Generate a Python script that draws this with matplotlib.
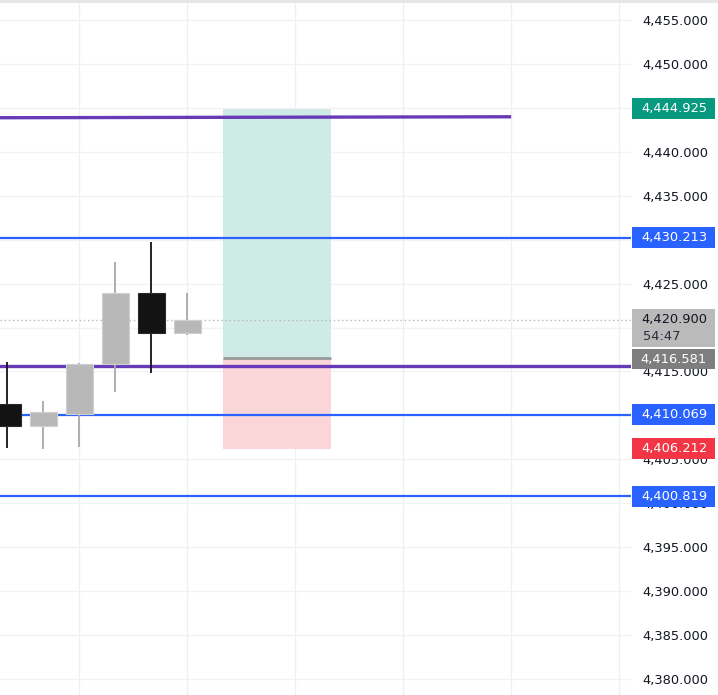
import matplotlib
matplotlib.use("Agg")
import matplotlib.pyplot as plt
from matplotlib.patches import Rectangle
import matplotlib.transforms as mtransforms

# ---- data ----
opens  = [4411.27, 4408.76, 4410.13, 4415.82, 4423.90, 4419.35]
highs  = [4416.11, 4411.68, 4415.99, 4427.43, 4429.70, 4423.90]
lows   = [4406.26, 4406.14, 4406.37, 4412.70, 4414.79, 4419.19]
closes = [4408.76, 4410.42, 4415.85, 4423.90, 4419.38, 4420.90]

blue_levels = [4430.213, 4410.069, 4400.819]
trend_upper = [4443.88, 4443.99]   # start, end of sloped purple line
trend_upper_x = [-0.3, 14.0]
purple_lower = 4415.62

entry = 4416.581
target = 4444.925
stop = 4406.212
pos_x = [6.0, 9.0]

last_price = 4420.900
countdown = "54:47"

yticks = list(range(4380, 4460, 5))
grid_x = [2, 5, 8, 11, 14, 17]

W, H = 718, 695
fig = plt.figure(figsize=(W / 100, H / 100), dpi=100)
ax = fig.add_axes([0, 0, 631 / W, 1])
ax.set_xlim(-0.203, 17.33)
ax.set_ylim(4378.18, 4457.28)
for s in ax.spines.values():
    s.set_visible(False)
ax.set_xticks([])

# grid
for g in grid_x:
    ax.axvline(g, color="#eef0f3", lw=1, zorder=0)
for t in yticks:
    ax.axhline(t, color="#f2f3f6", lw=1, zorder=0)

# y tick labels on the right
ax.yaxis.tick_right()
ax.set_yticks(yticks)
ax.set_yticklabels([f"{t:,.3f}" for t in yticks])
ax.tick_params(axis="y", length=0, pad=8.0, labelsize=9.4, labelcolor="#131722")

# position tool
ax.add_patch(Rectangle((pos_x[0], entry), pos_x[1] - pos_x[0], target - entry,
                       facecolor="#cfebe5", edgecolor="none", zorder=1))
ax.add_patch(Rectangle((pos_x[0], stop), pos_x[1] - pos_x[0], entry - stop,
                       facecolor="#fbd6d9", edgecolor="none", zorder=1))
ax.plot(pos_x, [entry, entry], color="#9a9a9a", lw=2, zorder=2, solid_capstyle="butt")

# horizontal lines
for lv in blue_levels:
    ax.axhline(lv, color="#2962ff", lw=1.6, zorder=3)
ax.axhline(purple_lower, color="#673ab7", lw=2.4, zorder=3)
ax.plot(trend_upper_x, trend_upper, color="#673ab7", lw=2.4, zorder=3,
        solid_capstyle="butt")

# last price dotted line
ax.axhline(last_price, color="#b8b8b8", lw=1, ls=(0, (1, 2)), zorder=1)

# candles
bw = 0.74
for i, (o, h, l, c) in enumerate(zip(opens, highs, lows, closes)):
    up = c >= o
    col = "#b8b8b8" if up else "#131313"
    ax.plot([i, i], [l, h], color="#a8a8a8" if up else "#131313", lw=1.3,
            zorder=4, solid_capstyle="butt")
    ax.add_patch(Rectangle((i - bw / 2, min(o, c)), bw, abs(c - o),
                           facecolor=col, edgecolor="#cfcfcf" if up else "#2a2a2a",
                           lw=0.8, zorder=5))

# price axis labels
tr = mtransforms.blended_transform_factory(fig.transFigure, ax.transData)
x0, x1 = 632 / W, 715 / W
px = (ax.get_ylim()[1] - ax.get_ylim()[0]) / H  # price per pixel
tx = 707 / W


def label(y, text, fc, tc, h=21, yc=None):
    yc = y if yc is None else yc
    ax.add_patch(Rectangle((x0, yc - h / 2 * px), x1 - x0, h * px, transform=tr,
                           facecolor=fc, edgecolor="none", clip_on=False, zorder=20))
    ax.text(tx, yc, text, transform=tr, ha="right", va="center", fontsize=9.4,
            color=tc, clip_on=False, zorder=21)


label(target, f"{target:,.3f}", "#089981", "white")
for lv in blue_levels:
    label(lv, f"{lv:,.3f}", "#2962ff", "white")
label(stop, f"{stop:,.3f}", "#f23645", "white")
# current price (two lines)
ax.add_patch(Rectangle((x0, last_price - 27 * px), x1 - x0, 38 * px, transform=tr,
                       facecolor="#bababa", edgecolor="none", clip_on=False, zorder=20))
ax.text(tx, last_price, f"{last_price:,.3f}", transform=tr, ha="right", va="center",
        fontsize=9.4, color="#131722", clip_on=False, zorder=21)
ax.text(643 / W, last_price - 17 * px, countdown, transform=tr, ha="left", va="center",
        fontsize=9.4, color="#2a2e39", clip_on=False, zorder=21)
label(entry, f"{entry:,.3f}", "#7e7e7e", "white", h=20, yc=entry - 1.5 * px)

# thin top band
fig.patches.append(Rectangle((0, 1 - 3 / H), 1, 3 / H, transform=fig.transFigure,
                             facecolor="#e6e6e6", edgecolor="none", zorder=30))

fig.savefig("out.png", dpi=100)
